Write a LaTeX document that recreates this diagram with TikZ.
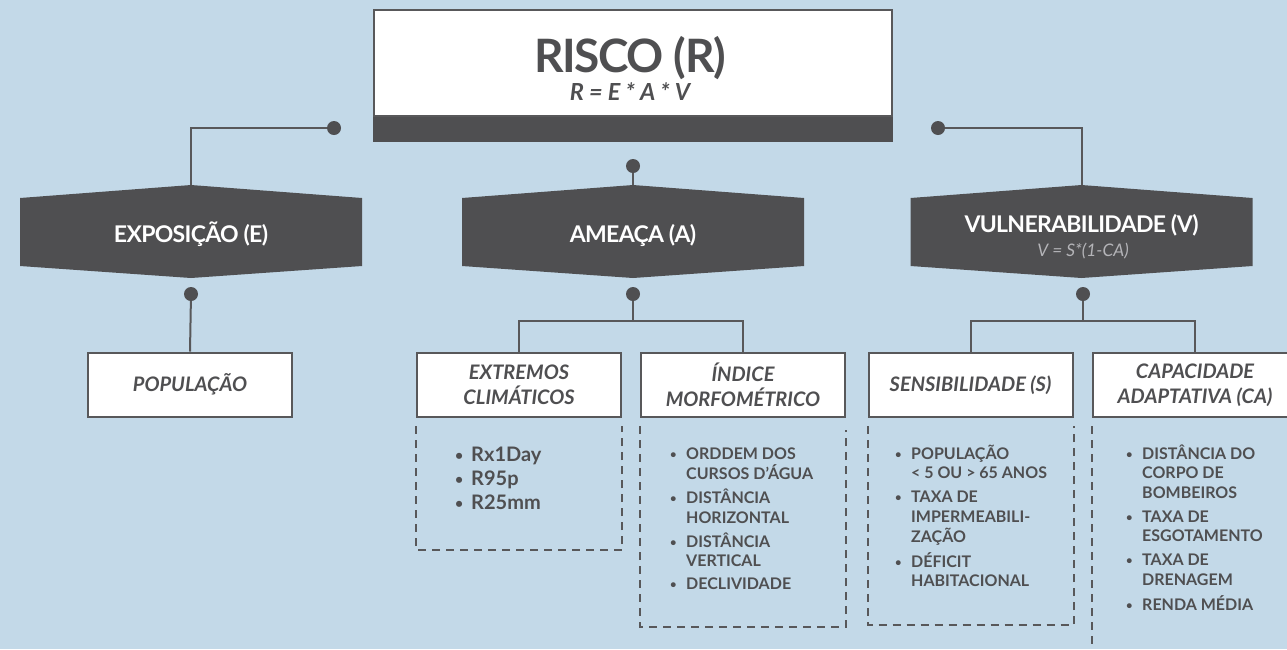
\documentclass[tikz,border=0pt]{standalone}
\usepackage{fontspec}
\setmainfont{Lato}
\newfontfamily\tightfont[LetterSpace=-3]{Lato}
\usetikzlibrary{positioning}

\definecolor{skyback}{RGB}{195,217,232}
\definecolor{darkgrey}{RGB}{79,79,81}
\definecolor{framegrey}{RGB}{88,88,90}
\definecolor{formulagrey}{RGB}{180,180,184}

\newcommand{\bul}{\makebox[16pt][l]{\raisebox{0.8pt}{\scalebox{0.7}{\textbullet}}}}

\tikzstyle{topbox}=[rectangle, draw=framegrey, line width=2, fill=white,
                    minimum width=518, minimum height=106, inner sep=0]
\tikzstyle{bar}=[rectangle, fill=darkgrey, minimum width=520,
                 minimum height=25, inner sep=0]
\tikzstyle{dot}=[circle, fill=darkgrey, minimum size=14, inner sep=0]
\tikzstyle{hexa}=[rectangle, minimum width=342, minimum height=93, inner sep=0,
                  text=white, text height=22, text depth=0,
                  font=\fontsize{23}{24}\selectfont\tightfont\bfseries,
                  path picture={\fill[darkgrey]
                    ([yshift=-13pt]path picture bounding box.north west)
                    -- (path picture bounding box.north)
                    -- ([yshift=-13pt]path picture bounding box.north east)
                    -- ([yshift=12pt]path picture bounding box.south east)
                    -- (path picture bounding box.south)
                    -- ([yshift=12pt]path picture bounding box.south west)
                    -- cycle;}]
\tikzstyle{card}=[rectangle, draw=framegrey, line width=2, fill=white,
                  minimum width=204, minimum height=64, inner sep=0,
                  align=center, text=darkgrey,
                  font=\fontsize{20}{25.5}\selectfont\bfseries\itshape]
\tikzstyle{items}=[anchor=base west, inner sep=0, text=darkgrey,
                   font=\fontsize{16}{19.5}\selectfont\bfseries]
\tikzstyle{link}=[framegrey, line width=2]
\tikzstyle{dashbox}=[framegrey, line width=2, dash pattern=on 8pt off 6pt]

\begin{document}
\begin{tikzpicture}[x=1pt, y=-1pt]
\useasboundingbox (0,0) rectangle (1287,649);
\clip (0,0) rectangle (1287,649);
\fill[skyback] (0,0) rectangle (1287,649);

%%%%%%%%%%%%%%%%%%%%%%%%%%%%%%
% nodes

% risco
\node (risco) at (633,63) [topbox] {};
\node (riscobar) [bar, below=0pt of risco] {};
\node (risco_t) at (630,72) [anchor=base, text=darkgrey,
  font=\fontsize{46}{46}\selectfont\tightfont\bfseries] {RISCO (R)};
\node (risco_f) at (630,100) [anchor=base, text=darkgrey,
  font=\fontsize{23.5}{24}\selectfont\bfseries\itshape] {R = E * A * V};

% dots
\node (dot_e) at (334,128) [dot] {};
\node (dot_a) at (633,166) [dot] {};
\node (dot_v) at (938,128) [dot] {};

% components
\node (expo) at (191,231.5) [hexa] {EXPOSIÇÃO (E)};
\node (ameaca) at (633,231.5) [hexa] {AMEAÇA (A)};
\node (vuln) at (1081.5,231.5) [hexa, text height=10, text depth=9] {VULNERABILIDADE (V)};
\node (vuln_f) at (1083,256) [anchor=base, text=formulagrey,
  font=\fontsize{17.3}{18}\selectfont\itshape] {V = S*(1-CA)};

\node (dot_e2) at (191,294) [dot] {};
\node (dot_a2) at (633,294) [dot] {};
\node (dot_v2) at (1083,294) [dot] {};
\coordinate (fork_a) at (633,321);
\coordinate (fork_v) at (1083,321);

% indicators
\node (popul) at (190,384.5) [card] {POPULAÇÃO};
\node (extremos) at (519,385) [card] {EXTREMOS\\CLIMÁTICOS};
\node (indice) at (743,385) [card] {ÍNDICE\\MORFOMÉTRICO};
\node (sensib) at (970.5,385) [card] {SENSIBILIDADE (S)};
\node (capac) at (1195,385) [card] {CAPACIDADE\\ADAPTATIVA (CA)};

% variables
\node (lst_ext) at (455,461) [items, font=\fontsize{20}{24}\selectfont\bfseries]
  {\begin{tabular}[t]{@{}l@{}l@{}}
   \bul & Rx1Day\\
   \bul & R95p\\
   \bul & R25mm
   \end{tabular}};

\node (lst_ind) at (670,459) [items]
  {\begin{tabular}[t]{@{}l@{}l@{}}
   \bul & ORDDEM DOS\\ & CURSOS D’ÁGUA\\[3.5pt]
   \bul & DISTÂNCIA\\ & HORIZONTAL\\[3.5pt]
   \bul & DISTÂNCIA\\ & VERTICAL\\[3.5pt]
   \bul & DECLIVIDADE
   \end{tabular}};

\node (lst_sen) at (895,459) [items]
  {\begin{tabular}[t]{@{}l@{}l@{}}
   \bul & POPULAÇÃO\\ & < 5 OU > 65 ANOS\\[4.5pt]
   \bul & TAXA DE\\ & IMPERMEABILI-\\ & ZAÇÃO\\[4.5pt]
   \bul & DÉFICIT\\ & HABITACIONAL
   \end{tabular}};

\node (lst_cap) at (1126,459) [items]
  {\begin{tabular}[t]{@{}l@{}l@{}}
   \bul & DISTÂNCIA DO\\ & CORPO DE\\ & BOMBEIROS\\[4.5pt]
   \bul & TAXA DE\\ & ESGOTAMENTO\\[4.5pt]
   \bul & TAXA DE\\ & DRENAGEM\\[4.5pt]
   \bul & RENDA MÉDIA
   \end{tabular}};

%%%%%%%%%%%%%%%%%%%%%%%%%%%%%%
% links

\draw [link] (dot_e) -| (expo.north);
\draw [link] (dot_a) -- (ameaca.north);
\draw [link] (dot_v) -| (vuln.north);

\draw [link] (dot_e2) -- (popul.north);
\draw [link] (dot_a2) -- (fork_a);
\draw [link] (extremos.north) |- (fork_a) -| (indice.north);
\draw [link] (dot_v2) -- (fork_v);
\draw [link] (sensib.north) |- (fork_v) -| (capac.north);

% dashed frames
\draw [dashbox] ([yshift=-8pt]extremos.south west) |- ([yshift=-132pt]extremos.south east) -- ([yshift=-8pt]extremos.south east);
\draw [dashbox] ([yshift=-8pt]indice.south west) |- ([yshift=-209pt]indice.south east) -- ([yshift=-12pt]indice.south east);
\draw [dashbox] ([yshift=-8pt]sensib.south west) |- ([yshift=-207pt]sensib.south east) -- ([yshift=-8pt]sensib.south east);
\draw [dashbox] ([yshift=-8pt]capac.south west) |- ([yshift=-300pt]capac.south east) -- ([yshift=-8pt]capac.south east);

\end{tikzpicture}
\end{document}
